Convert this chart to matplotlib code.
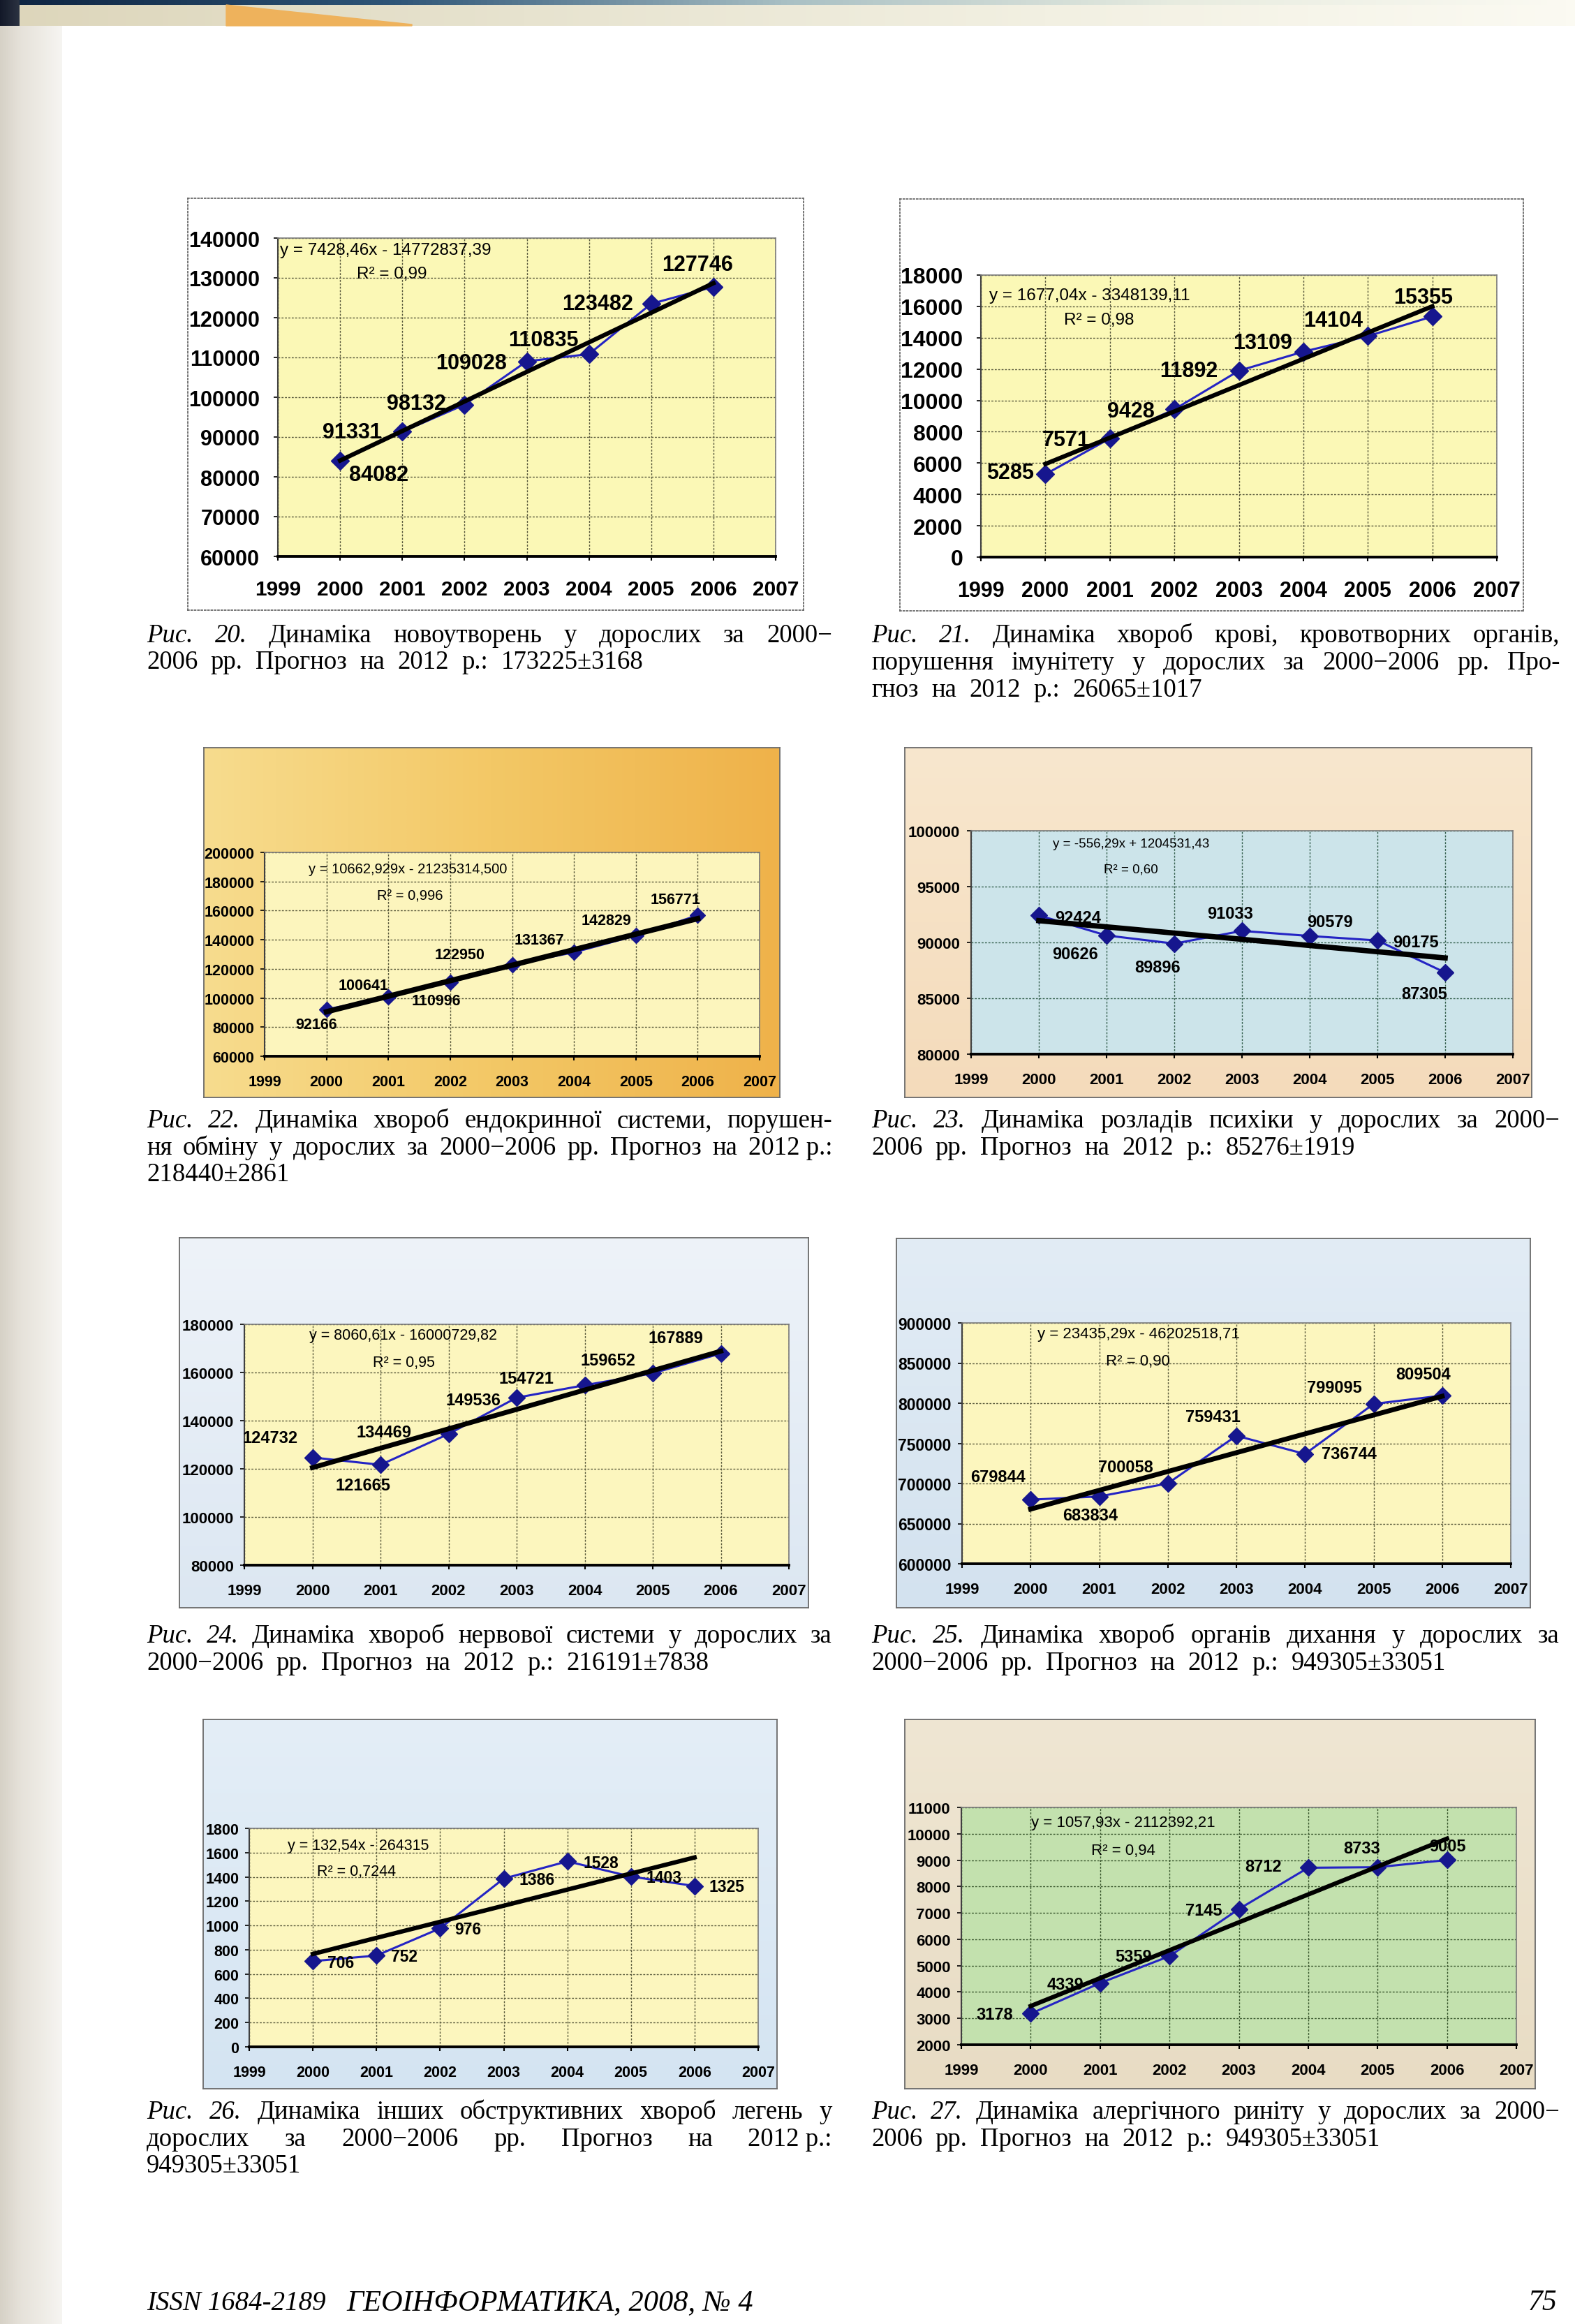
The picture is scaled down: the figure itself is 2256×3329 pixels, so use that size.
import numpy as np
import matplotlib.pyplot as plt
from matplotlib.colors import LinearSegmentedColormap
from matplotlib.patches import Polygon

plt.rcParams['font.family'] = ['Liberation Sans', 'DejaVu Sans']

W, H, DPI = 2256, 3330, 100

# ---- data ----
years = [2000, 2001, 2002, 2003, 2004, 2005, 2006]
year_ticks = [1999, 2000, 2001, 2002, 2003, 2004, 2005, 2006, 2007]

neoplasms = [84082, 91331, 98132, 109028, 110835, 123482, 127746]
blood = [5285, 7571, 9428, 11892, 13109, 14104, 15355]
endocrine = [92166, 100641, 110996, 122950, 131367, 142829, 156771]
mental = [92424, 90626, 89896, 91033, 90579, 90175, 87305]
nervous = [124732, 121665, 134469, 149536, 154721, 159652, 167889]
respiratory = [679844, 683834, 700058, 759431, 736744, 799095, 809504]
obstructive = [706, 752, 976, 1386, 1528, 1403, 1325]
rhinitis = [3178, 4339, 5359, 7145, 8712, 8733, 9005]
series = [neoplasms, blood, endocrine, mental, nervous, respiratory, obstructive, rhinitis]

# trend lines as printed on the charts
slopes = [7428.46, 1677.04, 10662.929, -556.29, 8060.61, 23435.29, 132.54, 1057.93]
intercepts = [-14772837.39, -3348139.11, -21235314.500, 1204531.43,
              -16000729.82, -46202518.71, -264315, -2112392.21]
equations = ['y = 7428,46x - 14772837,39', 'y = 1677,04x - 3348139,11',
             'y = 10662,929x - 21235314,500', 'y = -556,29x + 1204531,43',
             'y = 8060,61x - 16000729,82', 'y = 23435,29x - 46202518,71',
             'y = 132,54x - 264315', 'y = 1057,93x - 2112392,21']
r2_labels = ['R² = 0,99', 'R² = 0,98', 'R² = 0,996', 'R² = 0,60',
             'R² = 0,95', 'R² = 0,90', 'R² = 0,7244', 'R² = 0,94']

y_min = [60000, 0, 60000, 80000, 80000, 600000, 0, 2000]
y_max = [140000, 18000, 200000, 100000, 180000, 900000, 1800, 11000]
y_step = [10000, 2000, 20000, 5000, 20000, 50000, 200, 1000]

fig_numbers = ['20.', '21.', '22.', '23.', '24.', '25.', '26.', '27.']
captions = [
    ['Динаміка новоутворень у дорослих за 2000−',
     '2006 рр. Прогноз на 2012 р.: 173225±3168'],
    ['Динаміка хвороб крові, кровотворних органів,',
     'порушення імунітету у дорослих за 2000−2006 рр. Про-',
     'гноз на 2012 р.: 26065±1017'],
    ['Динаміка хвороб ендокринної системи, порушен-',
     'ня обміну у дорослих за 2000−2006 рр.  Прогноз на 2012\u00a0р.:',
     '218440±2861'],
    ['Динаміка розладів психіки у дорослих за 2000−',
     '2006 рр. Прогноз на 2012 р.: 85276±1919'],
    ['Динаміка хвороб нервової системи у дорослих за',
     '2000−2006 рр. Прогноз на 2012 р.: 216191±7838'],
    ['Динаміка хвороб органів дихання у дорослих за',
     '2000−2006 рр. Прогноз на 2012 р.: 949305±33051'],
    ['Динаміка інших обструктивних хвороб легень у',
     'дорослих за 2000−2006 рр. Прогноз на 2012\u00a0р.:',
     '949305±33051'],
    ['Динаміка алергічного риніту у дорослих за 2000−',
     '2006 рр. Прогноз на 2012 р.: 949305±33051'],
]

# ---- layout (pixels, origin top-left) ----
frames = [(269, 285, 1151, 875), (1289, 286, 2182, 876),
          (292, 1072, 1117, 1573), (1296, 1072, 2194, 1573),
          (257, 1774, 1158, 2304), (1284, 1775, 2192, 2304),
          (291, 2464, 1113, 2993), (1296, 2464, 2199, 2993)]
plots = [(398, 342, 1111, 798), (1405, 395, 2144, 799),
         (379, 1222, 1088, 1514), (1391, 1191, 2167, 1511),
         (350, 1898, 1130, 2243), (1378, 1896, 2164, 2241),
         (357, 2620, 1086, 2933), (1377, 2590, 2172, 2930)]
columns = [(210, 1192), (1248, 2234)] * 4
caption_rows = [(908, 946), (908, 947, 986), (1603, 1642, 1680), (1603, 1642),
                (2341, 2380), (2341, 2380), (3023, 3062, 3100), (3023, 3062)]

frame_colors = [['#ffffff', '#ffffff'], ['#ffffff', '#ffffff'],
                ['#f7dc8e', '#f3c866', '#efb24a'], ['#f8e7ce', '#f4dbbb'],
                ['#eef3f9', '#dce7f2'], ['#e2ecf5', '#d3e2ef'],
                ['#e4eef7', '#d4e4f2'], ['#efe6d3', '#e8dcc4']]
frame_ls = [':', ':', '-', '-', '-', '-', '-', '-']
plot_fill = ['#fbf8b6', '#fbf8b6', '#fcf5bd', '#cce4ea',
             '#fcf6be', '#fcf6be', '#fcf6be', '#c3e1ae']
grid_col = ['#55553a', '#55553a', '#5a5a3c', '#35604f',
            '#5a5a3c', '#5a5a3c', '#5a5a3c', '#38552c']

tick_size = [22, 23, 15.5, 16, 16, 16.5, 15.5, 16]
xtick_size = [21.5, 22, 15.5, 16, 16, 16, 15.5, 16]
label_size = [22, 22, 15.5, 17, 17, 17, 16.5, 17]
eq_size = [17.5, 17.5, 14.5, 13.5, 15.5, 16, 15.5, 16]
marker_size = [13, 13, 11, 12, 12, 12, 12, 12]
trend_lw = [4.5, 4.5, 5.5, 5.5, 5, 5, 4.5, 4.5]
xpad = [19, 19, 14, 14, 14, 14, 14, 14]
ypad = [14, 14, 6, 7, 6.5, 6.5, 6, 6.5]
eq_pos = [(0.004, 0.962), (0.016, 0.929), (0.089, 0.918), (0.151, 0.943),
          (0.119, 0.956), (0.137, 0.956), (0.076, 0.923), (0.126, 0.938)]
r2_pos = [(0.158, 0.888), (0.161, 0.842), (0.227, 0.788), (0.245, 0.827),
          (0.236, 0.841), (0.262, 0.841), (0.133, 0.805), (0.234, 0.820)]
# label offsets in pixels from each marker (dx, dy), y up
label_offsets = [
    [(55, -20), (-72, -1), (-69, 2), (-79, -2), (-65, 20), (-77, 0), (-23, 32)],
    [(-50, 2), (-63, -2), (-62, -3), (-72, 0), (-58, 13), (-50, 22), (-13, 27)],
    [(-15, -22), (-36, 17), (-20, -27), (-75, 14), (-50, 18), (-42, 22), (-32, 23)],
    [(56, -3), (-45, -27), (-24, -34), (-17, 25), (29, 20), (55, -2), (-30, -30)],
    [(-60, 28), (-25, -29), (-93, 3), (-62, -3), (-84, 10), (-64, 19), (-65, 22)],
    [(-47, 33), (-13, -27), (-60, 23), (-34, 27), (63, 0), (-56, 24), (-27, 31)],
    [(40, -2), (40, -1), (40, -1), (48, -2), (48, -2), (47, -1), (46, -1)],
    [(-52, -1), (-50, -2), (-52, 0), (-50, -2), (-64, 2), (-23, 27), (1, 20)],
]

fig = plt.figure(figsize=(W / DPI, H / DPI), dpi=DPI)
fig.patch.set_facecolor('white')


def box(x0, y0, x1, y1):
    return [x0 / W, 1 - y1 / H, (x1 - x0) / W, (y1 - y0) / H]


def gradient_axes(rect, colors, horizontal=True, zorder=0):
    bx = fig.add_axes(box(*rect), zorder=zorder)
    cmap = LinearSegmentedColormap.from_list('bg', colors)
    g = np.linspace(0, 1, 256)
    g = g[None, :] if horizontal else g[:, None]
    bx.imshow(g, cmap=cmap, aspect='auto', extent=[0, 1, 0, 1], interpolation='bilinear')
    bx.set_xticks([])
    bx.set_yticks([])
    return bx


def bare(bx):
    for s in bx.spines.values():
        s.set_visible(False)


# page decoration: the scanner edges at top and left
bare(gradient_axes((0, 0, W, 38), ['#ddd6bb', '#e7e3cf', '#f2f0e2', '#fbfaf2']))
bare(gradient_axes((0, 0, W, 8), ['#0d2340', '#2f5678', '#a9c0c4', '#e8ece0', '#fbfaf2']))
bare(gradient_axes((0, 38, 89, H), ['#d6d1c6', '#e6e2da', '#eeebe5', '#f6f5f2']))
bare(gradient_axes((0, 0, 28, 38), ['#121828', '#2c3342']))
fig.patches.append(Polygon([[324 / W, 1 - 8 / H], [590 / W, 1 - 36 / H],
                            [590 / W, 1 - 38 / H], [324 / W, 1 - 38 / H]],
                           closed=True, transform=fig.transFigure, color='#eeb25c', zorder=5))

for i in range(8):
    fr = gradient_axes(frames[i], frame_colors[i], horizontal=(i == 2))
    for s in fr.spines.values():
        s.set_color('#6a6a6a')
        s.set_linewidth(1.3)
        s.set_linestyle(frame_ls[i])

    ax = fig.add_axes(box(*plots[i]), zorder=2)
    ax.set_facecolor(plot_fill[i])
    ax.set_xlim(year_ticks[0], year_ticks[-1])
    ax.set_ylim(y_min[i], y_max[i])
    yt = np.arange(y_min[i], y_max[i] + y_step[i], y_step[i])
    ax.set_yticks(yt, labels=[str(int(v)) for v in yt], fontsize=tick_size[i], fontweight='bold')
    ax.set_xticks(year_ticks, labels=[str(y) for y in year_ticks],
                  fontsize=xtick_size[i], fontweight='bold')
    ax.tick_params(axis='x', length=4.5, width=1.5, pad=xpad[i], colors='black')
    ax.tick_params(axis='y', length=4.5, width=1.2, pad=ypad[i], colors='black')
    ax.grid(True, color=grid_col[i], lw=1.0, ls=(0, (2, 1.5)))
    ax.set_axisbelow(True)
    for s in ['top', 'right']:
        ax.spines[s].set_color('#7a7a7a')
        ax.spines[s].set_linewidth(1.2)
    ax.spines['left'].set_color('#404040')
    ax.spines['left'].set_linewidth(1.5)
    ax.spines['bottom'].set_color('black')
    ax.spines['bottom'].set_linewidth(2.8)

    vals = series[i]
    ax.plot(years, vals, color='#2424c4', lw=2.2, marker='D', ms=marker_size[i],
            mfc='#16168e', mec='#16168e', zorder=3)
    xs = np.array([years[0], years[-1]])
    ax.plot(xs, slopes[i] * xs + intercepts[i], color='black', lw=trend_lw[i], zorder=4)

    for x, v, (dx, dy) in zip(years, vals, label_offsets[i]):
        ax.annotate(str(v), (x, v), xytext=(dx, dy), textcoords='offset pixels',
                    ha='center', va='center', fontsize=label_size[i], fontweight='bold',
                    zorder=5, annotation_clip=False)

    ax.text(*eq_pos[i], equations[i], transform=ax.transAxes, fontsize=eq_size[i],
            ha='left', va='center', zorder=5)
    ax.text(*r2_pos[i], r2_labels[i], transform=ax.transAxes, fontsize=eq_size[i],
            ha='left', va='center', zorder=5)

# captions, justified like the printed page
CAP = 26.5
renderer = fig.canvas.get_renderer()


def caption_line(tokens, x0, x1, ymid, justify):
    objs = [fig.text(0, 0, s, fontsize=CAP, family=['Liberation Serif', 'DejaVu Serif'],
                     style=st, va='baseline', ha='left') for s, st in tokens]
    widths = [o.get_window_extent(renderer).width for o in objs]
    if justify and len(objs) > 1:
        gap = (x1 - x0 - sum(widths)) / (len(objs) - 1)
    else:
        gap = CAP * DPI / 72 * 0.5
    x = x0
    yb = ymid + 12
    for o, w in zip(objs, widths):
        o.set_position((x / W, 1 - yb / H))
        x += w + gap


for i in range(8):
    x0, x1 = columns[i]
    lines = captions[i]
    for k, line in enumerate(lines):
        toks = [(t, 'normal') for t in line.split(' ') if t]
        if k == 0:
            toks = [('Рис.', 'italic'), (fig_numbers[i], 'italic')] + toks
        caption_line(toks, x0, x1, caption_rows[i][k], justify=(k < len(lines) - 1))

# running footer
foot = dict(family=['Liberation Serif', 'DejaVu Serif'], style='italic', va='baseline')
fig.text(210 / W, 1 - 3309 / H, 'ISSN 1684-2189', ha='left', fontsize=28, **foot)
fig.text(496 / W, 1 - 3309 / H, 'ГЕОІНФОРМАТИКА, 2008, № 4', ha='left', fontsize=30.5, **foot)
fig.text(2230 / W, 1 - 3309 / H, '75', ha='right', fontsize=30, **foot)

fig.savefig('out.png', dpi=DPI, facecolor=fig.get_facecolor())
